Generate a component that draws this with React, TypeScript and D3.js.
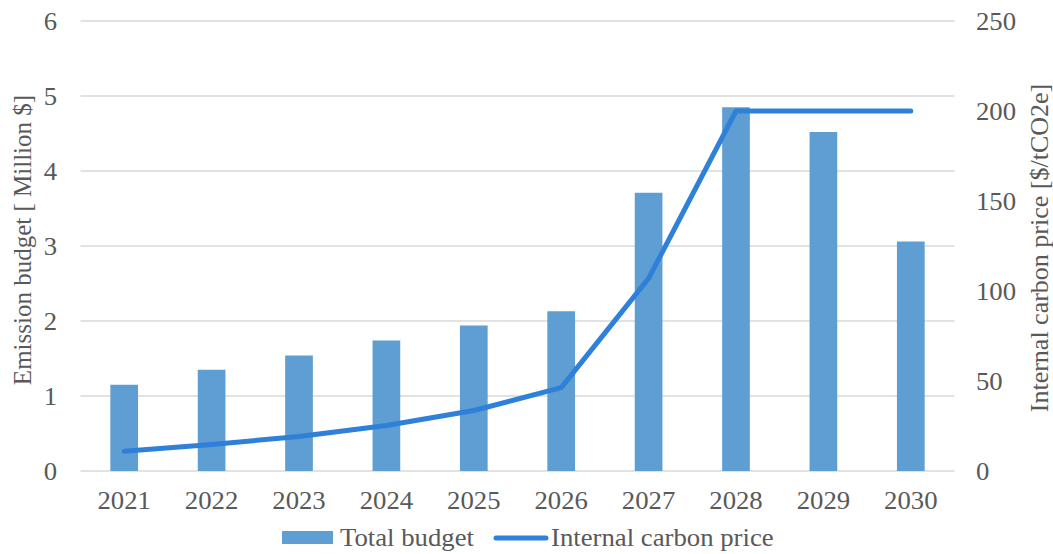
import React from "react";
import * as d3 from "d3";

const years = ["2021", "2022", "2023", "2024", "2025", "2026", "2027", "2028", "2029", "2030"];
const totalBudget = [1.15, 1.35, 1.54, 1.74, 1.94, 2.13, 3.71, 4.85, 4.52, 3.06];
const carbonPrice = [11, 14.7, 19.2, 25.3, 33.6, 46.3, 107, 200, 200, 200];
const leftTicks = [0, 1, 2, 3, 4, 5, 6];
const rightTicks = [0, 50, 100, 150, 200, 250];

const W = 1053;
const H = 554;
const plot = { left: 80.5, right: 954.5, top: 21, bottom: 471 };
const FONT = "'Liberation Serif', 'Times New Roman', serif";
const TEXT = "#595959";
const BAR = "#5F9ED3";
const LINE = "#2E80D8";
const GRID = "#D9D9D9";
const FS = 25;
const SX = 1.07;

// Horizontal label with slight horizontal widening
function HText(props: { x: number; y: number; anchor?: "start" | "middle" | "end"; children: React.ReactNode; dy?: string }) {
  const { x, y, anchor = "start", children, dy } = props;
  return (
    <text transform={`translate(${x},${y}) scale(${SX},1)`} dy={dy} textAnchor={anchor} fontSize={FS} fill={TEXT}>
      {children}
    </text>
  );
}

export default function App() {
  const x = d3.scaleBand<string>().domain(years).range([plot.left, plot.right]).paddingInner(0.683).paddingOuter(0.3415);
  const yL = d3.scaleLinear().domain([0, 6]).range([plot.bottom, plot.top]);
  const yR = d3.scaleLinear().domain([0, 250]).range([plot.bottom, plot.top]);
  const cx = (y: string) => (x(y) ?? 0) + x.bandwidth() / 2;
  const linePath = d3
    .line<number>()
    .x((_, i) => cx(years[i]))
    .y((d) => yR(d))(carbonPrice);

  return (
    <svg width={W} height={H} style={{ position: "absolute", left: 0, top: 0 }} fontFamily={FONT}>
      <rect width={W} height={H} fill="#fff" />
      {leftTicks.map((t) => (
        <line key={t} x1={plot.left} x2={plot.right} y1={yL(t)} y2={yL(t)} stroke={GRID} strokeWidth={1.5} />
      ))}
      {totalBudget.map((v, i) => (
        <rect key={years[i]} x={x(years[i])} y={yL(v)} width={x.bandwidth()} height={yL(0) - yL(v)} fill={BAR} />
      ))}
      <path d={linePath ?? ""} fill="none" stroke={LINE} strokeWidth={5} strokeLinecap="round" strokeLinejoin="round" />
      {leftTicks.map((t) => (
        <HText key={t} x={57} y={yL(t)} dy="0.35em" anchor="end">
          {t}
        </HText>
      ))}
      {rightTicks.map((t) => (
        <HText key={t} x={976} y={yR(t)} dy="0.35em" anchor="start">
          {t}
        </HText>
      ))}
      {years.map((y) => (
        <HText key={y} x={cx(y)} y={509} anchor="middle">
          {y}
        </HText>
      ))}
      <text transform="translate(31,240) rotate(-90)" textAnchor="middle" fontSize={25} fill={TEXT}>
        Emission budget [ Million $]
      </text>
      <text transform="translate(1048,248) rotate(-90)" textAnchor="middle" fontSize={26} fill={TEXT}>
        Internal carbon price [$/tCO2e]
      </text>
      <rect x={282} y={531} width={51} height={13} fill={BAR} />
      <HText x={340} y={546}>Total budget</HText>
      <line x1={496} x2={546} y1={538} y2={538} stroke={LINE} strokeWidth={5} strokeLinecap="round" />
      <HText x={551} y={546}>Internal carbon price</HText>
    </svg>
  );
}
